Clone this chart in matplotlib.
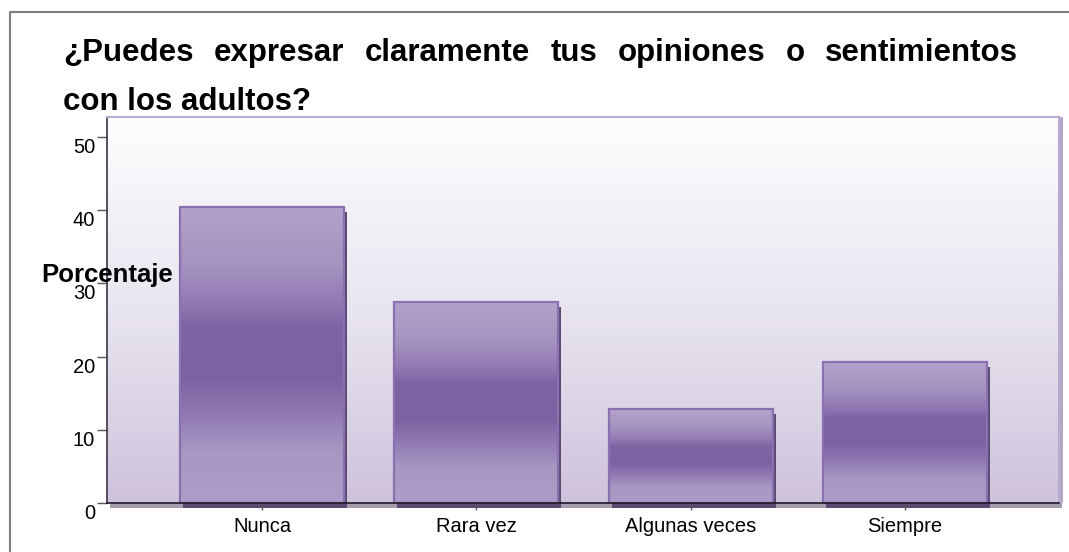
import matplotlib
matplotlib.use('Agg')
import matplotlib.pyplot as plt
import numpy as np
from matplotlib.colors import LinearSegmentedColormap
from matplotlib.patches import Rectangle
from matplotlib.lines import Line2D
from matplotlib.transforms import ScaledTranslation

plt.rcParams['font.family'] = ['Liberation Sans', 'DejaVu Sans']

# data
categorias = ['Nunca', 'Rara vez', 'Algunas veces', 'Siempre']
porcentaje = [40.4, 27.4, 12.8, 19.3]
yticks = [0, 10, 20, 30, 40, 50]
titulo1 = '¿Puedes expresar claramente tus opiniones o sentimientos'
titulo2 = 'con los adultos?'

W, H = 1069, 552
fig = plt.figure(figsize=(W / 100, H / 100), dpi=100)
fig.patch.set_facecolor('white')

# plot area in pixel coords
L, R, T, B = 107, 1059, 117, 503
ax = fig.add_axes([L / W, 1 - B / H, (R - L) / W, (B - T) / H])

def px(dx, dy):
    return ScaledTranslation(dx / 100, dy / 100, fig.dpi_scale_trans)

# background gradient of the plot area
bg = LinearSegmentedColormap.from_list('bg', ['#fdfdfe', '#e9e5f0', '#cec3dc'])
grad = np.linspace(0, 1, 256).reshape(-1, 1)
ax.imshow(grad, cmap=bg, aspect='auto', extent=[0, 1, 0, 1],
          transform=ax.transAxes, zorder=0.2)

# "3d" floor and right wall of the plot area
ax.add_patch(Rectangle((0, 0), 1, 1, transform=ax.transAxes + px(3, -5),
                       facecolor='#a59dae', edgecolor='none', clip_on=False, zorder=0.1))
ax.add_patch(Rectangle((1, 0), 0.0001, 1, transform=ax.transAxes,
                       facecolor='none', edgecolor='none', clip_on=False, zorder=0.1))
ax.add_patch(Rectangle((0.0, 0.0), 1, 1, transform=ax.transAxes + px(4, 0),
                       facecolor='#b4a7c7', edgecolor='none', clip_on=False, zorder=0.15))

# bars with vertical gradient
barcmap = LinearSegmentedColormap.from_list('bar', [
    (0.0, '#b3a2ca'), (0.2, '#a592c0'), (0.33, '#9077b2'), (0.4, '#7f64a4'),
    (0.58, '#7d62a3'), (0.7, '#9079b2'), (0.83, '#a897c3'), (1.0, '#ad9cc7')])
ancho = 0.765
x = np.arange(len(categorias))
for xi, v in zip(x, porcentaje):
    ax.add_patch(Rectangle((xi - ancho / 2, 0), ancho, v, transform=ax.transData + px(3, -5),
                           facecolor='#5b4a72', edgecolor='none', clip_on=False, zorder=1))
    ax.imshow(grad, cmap=barcmap, aspect='auto', origin='upper',
              extent=[xi - ancho / 2, xi + ancho / 2, 0, v], zorder=2)
    ax.add_patch(Rectangle((xi - ancho / 2, 0), ancho, v, facecolor='none',
                           edgecolor='#8a6fb1', linewidth=1.6, zorder=3))

ax.set_xlim(-0.723, 3.719)
ax.set_ylim(0, 52.7)
ax.set_xticks(x)
ax.set_xticklabels(categorias, fontsize=14.5)
ax.set_yticks(yticks)
ax.set_yticklabels([str(t) for t in yticks], fontsize=14.5)
ax.tick_params(axis='y', length=7, width=1, color='#555555', pad=1.5)
ax.tick_params(axis='x', length=5, width=1, color='#555555', pad=5)
for lab in ax.get_yticklabels():
    lab.set_transform(lab.get_transform() + px(0, -8.5))

ax.spines['top'].set_color('#b9abd0')
ax.spines['top'].set_linewidth(1.5)
ax.spines['right'].set_color('#b9abd0')
ax.spines['right'].set_linewidth(1.5)
ax.spines['left'].set_color('#3a3548')
ax.spines['left'].set_linewidth(1.2)
ax.spines['bottom'].set_color('#1e1a28')
ax.spines['bottom'].set_linewidth(1.2)
for s in ax.spines.values():
    s.set_zorder(4)

# outer frame (left and top only)
fig.add_artist(Line2D([10 / W, 10 / W, 1], [0, 1 - 12 / H, 1 - 12 / H],
                      transform=fig.transFigure, color='#7f7f7f', linewidth=1.5))

# justified title, first line
renderer = fig.canvas.get_renderer()
palabras = titulo1.split(' ')
textos = [fig.text(0, 1 - 61 / H, p, fontsize=22.5, fontweight='bold', va='baseline')
          for p in palabras]
anchos = [t.get_window_extent(renderer).width for t in textos]
x0, x1 = 63, 1018
hueco = (x1 - x0 - sum(anchos)) / (len(palabras) - 1)
pos = x0
for t, a in zip(textos, anchos):
    t.set_x(pos / W)
    pos += a + hueco
fig.text(63 / W, 1 - 110 / H, titulo2, fontsize=22.5, fontweight='bold', va='baseline')

# axis title
fig.text(41 / W, 1 - 282 / H, 'Porcentaje', fontsize=18.5, fontweight='bold',
         va='baseline', zorder=10)

fig.savefig('out.png', dpi=100)
